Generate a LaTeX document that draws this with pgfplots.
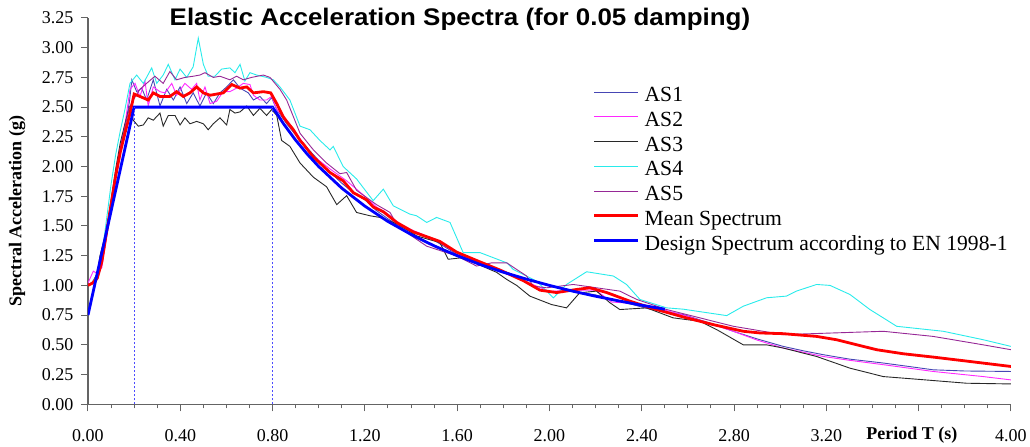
\documentclass[border=0pt]{standalone}
\usepackage{fontspec}
\setmainfont{Liberation Serif}
\newfontfamily\titlefont[FakeStretch=1.08]{Liberation Sans}
\usepackage{pgfplots}
\pgfplotsset{compat=1.18}

\definecolor{asone}{RGB}{70,70,180}
\definecolor{astwo}{RGB}{255,40,255}
\definecolor{asthree}{RGB}{40,40,40}
\definecolor{asfour}{RGB}{40,235,235}
\definecolor{asfive}{RGB}{150,40,150}
\definecolor{axisgray}{RGB}{100,100,100}

\begin{document}
\begin{tikzpicture}
% page frame: 1030 x 447
\path (-88pt,-42.7pt) rectangle (942pt,404.3pt);
\begin{axis}[
    at={(0,0)}, anchor=south west,
    scale only axis, width=923pt, height=386.3pt,
    xmin=0, xmax=4, ymin=0, ymax=3.25,
    axis lines*=left,
    axis line style={draw=axisgray, line width=1.1pt},
    every tick/.style={draw=axisgray, line width=1pt},
    tick align=outside,
    major tick length=7pt,
    minor tick length=4pt,
    xtick={0,0.4,0.8,1.2,1.6,2.0,2.4,2.8,3.2,3.6,4.0},
    xticklabels={0.00,0.40,0.80,1.20,1.60,2.00,2.40,2.80,3.20,,4.00},
    minor x tick num=3,
    ytick={0,0.25,0.5,0.75,1,1.25,1.5,1.75,2,2.25,2.5,2.75,3,3.25},
    yticklabels={0.00,0.25,0.50,0.75,1.00,1.25,1.50,1.75,2.00,2.25,2.50,2.75,3.00,3.25},
    /pgf/number format/assume math mode=true,
    tick label style={font=\fontsize{18}{20}\selectfont},
    xticklabel style={anchor=center, yshift=-24pt},
    yticklabel style={anchor=east, xshift=-4pt},
    xlabel={Period T (s)},
    xlabel style={at={(axis description cs:0.8927,0)}, anchor=center, yshift=-30.7pt,
                  font=\bfseries\fontsize{18}{20}\selectfont},
    ylabel={Spectral Acceleration (g)},
    ylabel style={at={(axis description cs:-0.0769,0.5)}, anchor=center,
                  font=\bfseries\fontsize{18}{20}\selectfont},
    legend style={draw=none, fill=none, at={(axis description cs:0.5468,0.8222)},
                  anchor=north west, inner sep=0pt, row sep=0pt, column sep=5pt,
                  font=\fontsize{21.6}{24}\selectfont,
                  nodes={inner sep=0pt, text height=15pt, text depth=9.7pt}},
    legend cell align=left,
    legend image code/.code={\draw[#1] (0pt,7pt) -- (44pt,7pt);},
]
% AS1
\addplot[asone, line width=0.9pt] coordinates {
(0,1.0) (0.02,1.02) (0.04,1.05) (0.06,1.17) (0.08,1.42) (0.1,1.68) (0.12,1.93) (0.14,2.15)
(0.16,2.33) (0.18,2.55) (0.19,2.73) (0.211,2.63) (0.233,2.66) (0.254,2.56) (0.283,2.73)
(0.312,2.51) (0.341,2.65) (0.37,2.56) (0.399,2.67) (0.428,2.53) (0.456,2.62) (0.485,2.51)
(0.514,2.62) (0.543,2.53) (0.572,2.62) (0.601,2.67) (0.63,2.73) (0.659,2.66) (0.695,2.62)
(0.717,2.56) (0.745,2.59) (0.774,2.53) (0.796,2.58) (0.818,2.48) (0.861,2.36) (0.919,2.22)
(0.977,2.10) (1.034,1.98) (1.1,1.86) (1.15,1.78) (1.2,1.72) (1.25,1.63) (1.3,1.56) (1.35,1.50)
(1.4,1.45) (1.45,1.42) (1.5,1.38) (1.55,1.32) (1.6,1.26) (1.7,1.19) (1.8,1.12) (1.9,1.05)
(2.0,1.0) (2.1,0.95) (2.2,0.92) (2.3,0.87) (2.436,0.80) (2.58,0.755) (2.7,0.68) (2.797,0.614)
(2.9,0.55) (3.013,0.487) (3.1,0.45) (3.187,0.417) (3.3,0.38) (3.447,0.347) (3.55,0.32)
(3.663,0.29) (3.8,0.28) (4.0,0.276)
};
% AS2
\addplot[astwo, line width=0.9pt] coordinates {
(0,1.02) (0.023,1.12) (0.04,1.1) (0.06,1.15) (0.08,1.4) (0.1,1.68) (0.12,1.95) (0.14,2.17)
(0.16,2.35) (0.182,2.65) (0.204,2.70) (0.225,2.59) (0.247,2.72) (0.261,2.51) (0.283,2.67)
(0.312,2.63) (0.334,2.62) (0.363,2.70) (0.384,2.60) (0.42,2.70) (0.449,2.65) (0.471,2.70)
(0.485,2.56) (0.507,2.67) (0.529,2.53) (0.558,2.55) (0.586,2.63) (0.615,2.63) (0.644,2.66)
(0.673,2.70) (0.702,2.69) (0.717,2.60) (0.745,2.56) (0.774,2.56) (0.796,2.59) (0.818,2.48)
(0.861,2.39) (0.904,2.28) (0.962,2.11) (1.049,1.98) (1.121,1.88) (1.2,1.75) (1.25,1.66)
(1.3,1.60) (1.35,1.52) (1.4,1.47) (1.45,1.43) (1.5,1.39) (1.55,1.33) (1.6,1.27) (1.7,1.19)
(1.8,1.11) (1.9,1.03) (2.0,0.95) (2.1,0.96) (2.2,0.96) (2.27,0.86) (2.35,0.85) (2.436,0.825)
(2.6,0.74) (2.797,0.614) (2.9,0.54) (3.013,0.473) (3.187,0.402) (3.3,0.37) (3.447,0.333)
(3.663,0.276) (3.88,0.233) (4.0,0.205)
};
% AS3
\addplot[asthree, line width=0.9pt] coordinates {
(0,1.0) (0.02,1.03) (0.04,1.1) (0.052,1.25) (0.081,1.47) (0.1,1.72) (0.12,1.98) (0.14,2.2)
(0.16,2.36) (0.18,2.5) (0.19,2.45) (0.196,2.39) (0.218,2.34) (0.24,2.35) (0.261,2.41)
(0.283,2.39) (0.312,2.45) (0.326,2.34) (0.348,2.43) (0.377,2.43) (0.399,2.35) (0.42,2.41)
(0.442,2.36) (0.471,2.38) (0.5,2.36) (0.521,2.31) (0.543,2.36) (0.572,2.41) (0.601,2.35)
(0.615,2.48) (0.637,2.45) (0.659,2.46) (0.688,2.51) (0.717,2.43) (0.745,2.49) (0.774,2.43)
(0.796,2.48) (0.818,2.43) (0.839,2.22) (0.875,2.17) (0.919,2.03) (0.977,1.91) (1.034,1.83)
(1.078,1.68) (1.121,1.755) (1.164,1.614) (1.222,1.586) (1.265,1.572) (1.323,1.53)
(1.367,1.488) (1.424,1.417) (1.525,1.36) (1.561,1.22) (1.626,1.234) (1.699,1.17) (1.771,1.11)
(1.815,1.05) (1.858,1.0) (1.915,0.91) (2.009,0.839) (2.074,0.811) (2.131,0.938) (2.204,0.952)
(2.262,0.854) (2.305,0.797) (2.421,0.811) (2.536,0.727) (2.652,0.698) (2.725,0.628)
(2.84,0.50) (2.941,0.50) (3.013,0.473) (3.158,0.402) (3.302,0.304) (3.447,0.233)
(3.591,0.211) (3.808,0.177) (4.0,0.171)
};
% AS4
\addplot[asfour, line width=0.9pt] coordinates {
(0,1.0) (0.02,1.03) (0.04,1.08) (0.06,1.25) (0.08,1.55) (0.1,1.85) (0.12,2.1) (0.14,2.3)
(0.16,2.48) (0.182,2.70) (0.211,2.77) (0.24,2.70) (0.276,2.83) (0.298,2.70) (0.326,2.77)
(0.348,2.86) (0.377,2.73) (0.399,2.82) (0.428,2.75) (0.456,2.84) (0.478,3.08) (0.5,2.86)
(0.521,2.76) (0.55,2.76) (0.579,2.82) (0.615,2.83) (0.637,2.79) (0.659,2.86) (0.68,2.72)
(0.702,2.79) (0.731,2.77) (0.774,2.75) (0.803,2.73) (0.832,2.67) (0.875,2.56) (0.919,2.34)
(0.962,2.31) (1.005,2.22) (1.049,2.14) (1.063,2.17) (1.106,2.0) (1.164,1.896) (1.236,1.713)
(1.28,1.81) (1.323,1.67) (1.395,1.60) (1.424,1.586) (1.468,1.53) (1.511,1.572) (1.569,1.53)
(1.626,1.276) (1.699,1.276) (1.815,1.19) (1.843,1.135) (1.944,1.036) (2.017,0.896)
(2.074,1.008) (2.161,1.115) (2.277,1.079) (2.334,1.008) (2.392,0.882) (2.508,0.811)
(2.58,0.80) (2.768,0.746) (2.84,0.825) (2.941,0.896) (3.027,0.91) (3.07,0.952) (3.158,1.008)
(3.216,1.0) (3.302,0.924) (3.389,0.797) (3.505,0.656) (3.707,0.614) (3.88,0.543) (4.0,0.487)
};
% AS5
\addplot[asfive, line width=0.9pt] coordinates {
(0,1.0) (0.02,1.02) (0.04,1.06) (0.06,1.18) (0.08,1.43) (0.1,1.7) (0.12,1.95) (0.14,2.16)
(0.16,2.34) (0.18,2.5) (0.196,2.56) (0.225,2.65) (0.254,2.70) (0.29,2.76) (0.326,2.70)
(0.355,2.80) (0.384,2.73) (0.42,2.75) (0.456,2.76) (0.485,2.77) (0.507,2.79) (0.543,2.75)
(0.572,2.76) (0.615,2.73) (0.644,2.76) (0.673,2.73) (0.709,2.75) (0.76,2.77) (0.789,2.75)
(0.832,2.65) (0.861,2.56) (0.89,2.42) (0.919,2.28) (0.977,2.14) (1.034,2.03) (1.092,1.94)
(1.121,1.95) (1.164,1.80) (1.25,1.68) (1.309,1.614) (1.338,1.516) (1.4,1.42) (1.468,1.33)
(1.598,1.248) (1.684,1.163) (1.75,1.19) (1.815,1.19) (1.901,1.079) (1.93,0.994) (1.988,0.98)
(2.103,1.008) (2.204,0.98) (2.305,0.952) (2.378,0.882) (2.508,0.797) (2.652,0.727)
(2.797,0.656) (3.013,0.586) (3.23,0.60) (3.447,0.614) (3.663,0.571) (3.88,0.50) (4.0,0.459)
};
% Mean spectrum
\addplot[red, line width=2.8pt] coordinates {
(0,1.0) (0.02,1.02) (0.04,1.06) (0.06,1.2) (0.08,1.44) (0.1,1.68) (0.12,1.92) (0.14,2.12)
(0.16,2.28) (0.18,2.43) (0.2,2.61) (0.225,2.59) (0.261,2.56) (0.283,2.62) (0.312,2.59)
(0.355,2.59) (0.384,2.63) (0.413,2.59) (0.442,2.62) (0.471,2.67) (0.5,2.62) (0.529,2.60)
(0.558,2.61) (0.586,2.62) (0.623,2.69) (0.659,2.66) (0.688,2.67) (0.717,2.62) (0.76,2.63)
(0.792,2.62) (0.818,2.53) (0.846,2.42) (0.861,2.38) (0.89,2.31) (0.919,2.22) (0.933,2.19)
(0.977,2.08) (1.005,2.03) (1.049,1.95) (1.106,1.88) (1.15,1.78) (1.208,1.72) (1.236,1.66)
(1.28,1.62) (1.338,1.53) (1.41,1.45) (1.482,1.40) (1.525,1.37) (1.598,1.28) (1.684,1.21)
(1.785,1.13) (1.887,1.04) (1.959,0.96) (2.031,0.94) (2.118,0.966) (2.175,0.98) (2.248,0.94)
(2.349,0.867) (2.464,0.797) (2.594,0.727) (2.71,0.67) (2.84,0.614) (2.912,0.60) (3.013,0.594)
(3.158,0.571) (3.244,0.543) (3.418,0.459) (3.533,0.425) (3.663,0.397) (3.822,0.36) (4.0,0.318)
};
% Design spectrum EN 1998-1
\addplot[blue, line width=2.8pt] coordinates {
(0,0.75) (0.2,2.5) (0.8,2.5) (0.85,2.353) (0.9,2.222) (0.95,2.105) (1.0,2.0) (1.1,1.818)
(1.2,1.667) (1.3,1.538) (1.4,1.429) (1.5,1.333) (1.6,1.25) (1.7,1.176) (1.8,1.111)
(1.9,1.053) (2.0,1.0) (2.1,0.952) (2.2,0.909) (2.3,0.870) (2.4,0.833) (2.5,0.8)
};
% corner periods TB, TC
\addplot[blue!70, line width=0.8pt, dash pattern=on 2pt off 2pt, forget plot] coordinates {(0.2,0) (0.2,2.5)};
\addplot[blue!70, line width=0.8pt, dash pattern=on 2pt off 2pt, forget plot] coordinates {(0.8,0) (0.8,2.5)};
\legend{AS1,AS2,AS3,AS4,AS5,Mean Spectrum,Design Spectrum according to EN 1998-1}
\end{axis}
\node[font=\titlefont\bfseries\fontsize{24}{28}\selectfont] at (372pt,385pt)
  {Elastic Acceleration Spectra (for 0.05 damping)};
\end{tikzpicture}
\end{document}
